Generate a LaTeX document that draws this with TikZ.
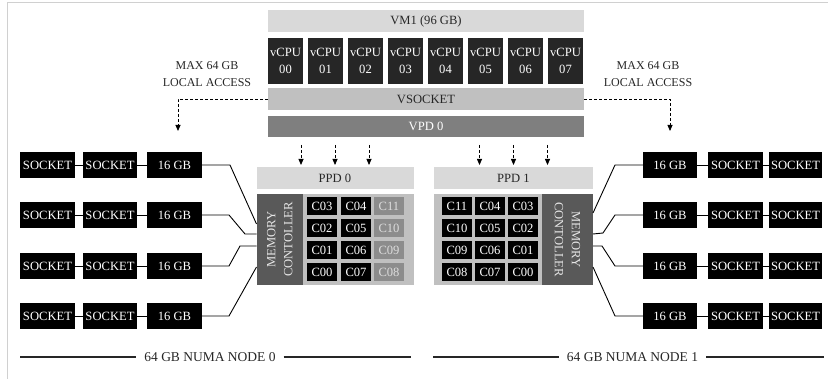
\documentclass[tikz,border=0pt]{standalone}
\usepackage{fontspec}
\setmainfont{Liberation Serif}
\usetikzlibrary{arrows.meta}
\definecolor{lgray}{HTML}{D9D9D9}
\definecolor{sgray}{HTML}{C0C0C0}
\definecolor{pgray}{HTML}{7F7F7F}
\definecolor{mgray}{HTML}{595959}
\definecolor{vdark}{HTML}{262626}
\definecolor{coregray}{HTML}{8C8C8C}
\definecolor{coretext}{HTML}{DDDDDD}
\definecolor{framegray}{HTML}{D0D0D0}
\begin{document}
\begin{tikzpicture}[x=1pt,y=-1pt,
  every node/.style={inner sep=0pt, outer sep=0pt},
  txt/.style={font=\fontsize{12}{17}\selectfont},
  btxt/.style={font=\fontsize{12.6}{17}\selectfont},
  bar/.style={btxt, minimum width=316pt, minimum height=22pt},
  vcpu/.style={btxt, fill=vdark, text=white, minimum width=35pt, minimum height=46pt, align=center},
  blk/.style={btxt, fill=black, text=white, minimum width=55pt, minimum height=26pt},
  core/.style={btxt, fill=black, text=white, minimum width=30pt, minimum height=18pt},
  corelt/.style={core, fill=coregray, text=coretext},
  ppd/.style={btxt, fill=lgray, text=vdark, minimum height=22pt},
  area/.style={fill=sgray, minimum height=91pt},
  memctl/.style={fill=mgray, minimum height=91pt},
  memtxt/.style={btxt, text=white!90!black, align=center},
  wire/.style={line width=0.9pt},
  dasharrow/.style={dash pattern=on 3pt off 2pt, line width=0.8pt, -{Triangle[length=6pt,width=5pt]}},
  rule/.style={line width=1.4pt, black!85},
  numa/.style={font=\fontsize{13.5}{16}\selectfont, inner xsep=8pt},
]
\useasboundingbox (0,0) rectangle (828,379);

% outer frame
\draw[framegray, line width=1pt] (7,379) -- (7,2.5) -- (828,2.5);

% virtual machine stack
\node[bar, fill=lgray, text=vdark] (vm) at (426,21) {VM1 (96 GB)};
\foreach \i in {0,...,7} {
  \node[vcpu] (vcpu\i) at (285.5+40*\i,61) {vCPU\\0\i};
}
\node[bar, fill=sgray, text=vdark] (vsock) at (426,99) {VSOCKET};
\node[bar, fill=pgray, text=white, minimum height=21pt] (vpd) at (426,126.5) {VPD 0};

% local access notes
\node[txt, align=center, text=vdark] (maxL) at (207,74.5) {MAX 64 GB\\LOCAL ACCESS};
\node[txt, align=center, text=vdark] (maxR) at (648,74.5) {MAX 64 GB\\LOCAL ACCESS};
\coordinate (arrL) at (178,131);
\coordinate (arrR) at (670,131);
\draw[dasharrow] (vsock.west) -| (arrL);
\draw[dasharrow] (vsock.east) -| (arrR);

% physical proximity domains
\node[ppd, minimum width=157pt] (ppd0) at (335,178) {PPD 0};
\node[ppd, minimum width=159pt] (ppd1) at (513.5,178) {PPD 1};
\foreach \dx in {-34,0,34} {
  \draw[dasharrow, shorten >=2pt] ([xshift=\dx pt, yshift=22pt]ppd0.north) -- ([xshift=\dx pt]ppd0.north);
  \draw[dasharrow, shorten >=2pt] ([xshift=\dx pt, yshift=22pt]ppd1.north) -- ([xshift=\dx pt]ppd1.north);
}

\node[area, minimum width=157pt] (area0) at (335,239.5) {};
\node[area, minimum width=159pt] (area1) at (513.5,239.5) {};
\node[memctl, minimum width=46.5pt] (mcL) at (279.75,239.5) {};
\node[memctl, minimum width=51pt] (mcR) at (567.5,239.5) {};
\node[memtxt, rotate=90] (mcLt) at (mcL.center) {MEMORY\\CONTOLLER};
\node[memtxt, rotate=-90] (mcRt) at (mcR.center) {MEMORY\\CONTOLLER};

% cores of PPD 0
\foreach \a/\b/\c [count=\r from 0] in {03/04/11, 02/05/10, 01/06/09, 00/07/08} {
  \node[core] (p0a\r) at (322,206.5+22*\r) {C\a};
  \node[core] (p0b\r) at (356,206.5+22*\r) {C\b};
  \node[corelt] (p0c\r) at (389,206.5+22*\r) {C\c};
}
% cores of PPD 1
\foreach \a/\b/\c [count=\r from 0] in {11/04/03, 10/05/02, 09/06/01, 08/07/00} {
  \node[core] (p1a\r) at (457,206.5+22*\r) {C\a};
  \node[core] (p1b\r) at (490,206.5+22*\r) {C\b};
  \node[core] (p1c\r) at (523,206.5+22*\r) {C\c};
}

% memory banks, left side
\foreach \y [count=\r] in {165,215,266,316} {
  \node[blk] (sLa\r) at (47.5,\y) {SOCKET};
  \node[blk, minimum width=54pt] (sLb\r) at (110,\y) {SOCKET};
  \node[blk] (gbL\r) at (174.5,\y) {16 GB};
  \draw[wire] (sLa\r) -- (sLb\r);
  \draw[wire] (sLb\r) -- (gbL\r);
}
% memory banks, right side
\foreach \y [count=\r] in {165,215,266,316} {
  \node[blk, minimum width=54pt] (gbR\r) at (670,\y) {16 GB};
  \node[blk] (sRa\r) at (735.5,\y) {SOCKET};
  \node[blk, minimum width=53pt] (sRb\r) at (795.5,\y) {SOCKET};
  \draw[wire] (gbR\r) -- (sRa\r);
  \draw[wire] (sRa\r) -- (sRb\r);
}

% bank to controller wiring
\draw[wire] (gbL1.east) -- ++(28,0) -- ([yshift=15.5pt]mcL.west);
\draw[wire] (gbL2.east) -- ++(27,0) -- ++(16,19) -- ([yshift=5.5pt]mcL.west);
\draw[wire] (gbL3.east) -- ++(27,0) -- ++(11,-20) -- ([yshift=-6.5pt]mcL.west);
\draw[wire] (gbL4.east) -- ++(27,0) -- ([yshift=-27.5pt]mcL.west);
\draw[wire] (gbR1.west) -- ++(-28,0) -- ([yshift=26.5pt]mcR.east);
\draw[wire] (gbR2.west) -- ++(-28,0) -- ++(-12,18) -- ([yshift=5.5pt]mcR.east);
\draw[wire] (gbR3.west) -- ++(-28,0) -- ++(-13,-20) -- ([yshift=-6.5pt]mcR.east);
\draw[wire] (gbR4.west) -- ++(-28,0) -- ([yshift=-27.5pt]mcR.east);

% NUMA node rules
\node[numa, text=vdark] (numa0) at (210,357) {64 GB NUMA NODE 0};
\node[numa, text=vdark] (numa1) at (632.5,357) {64 GB NUMA NODE 1};
\coordinate (b0l) at (20,357);
\coordinate (b0r) at (411,357);
\coordinate (b1l) at (433,357);
\coordinate (b1r) at (824,357);
\draw[rule] (b0l) -- (numa0.west);
\draw[rule] (numa0.east) -- (b0r);
\draw[rule] (b1l) -- (numa1.west);
\draw[rule] (numa1.east) -- (b1r);
\end{tikzpicture}
\end{document}
